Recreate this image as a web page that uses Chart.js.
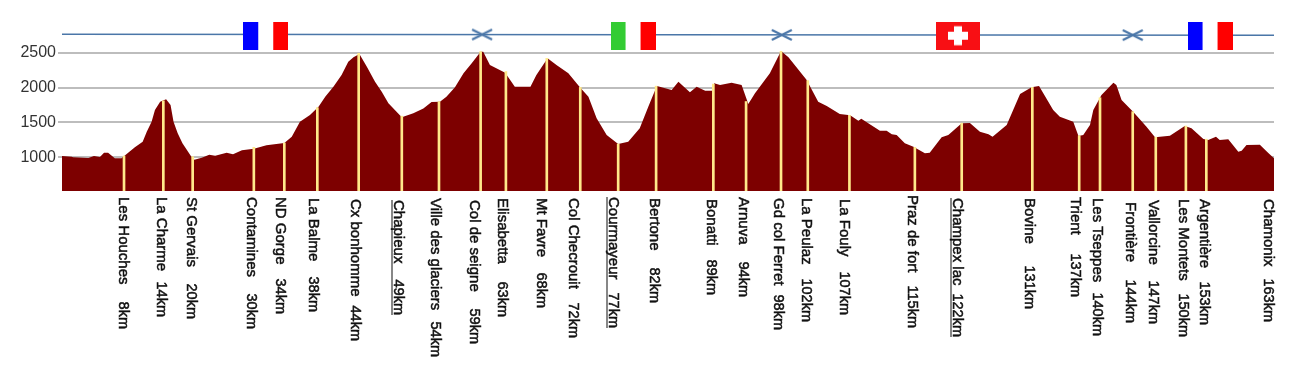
<!DOCTYPE html>
<html>
<head>
<meta charset="utf-8">
<title>Profil UTMB</title>
<script src="https://cdn.jsdelivr.net/npm/chart.js@4"></script>
<style>
  html, body { margin: 0; padding: 0; background: #fff; }
  canvas { display: block; }
</style>
</head>
<body>
<canvas id="profil" width="1304" height="380"></canvas>
<script>
// profil : position le long du parcours (km) et altitude (m)
const profileKm = [
  0, 1.3, 1.5, 3.54, 4.3, 5.1, 5.65, 6.2, 7.1, 8, 8.9, 9.8, 10.85, 11.4, 12.05, 12.5, 13.2, 14, 14.6, 15,
  15.56, 16.2, 17.4, 17.8, 18.8, 19.8, 20.6, 22.15, 23, 24.2, 25.8, 27.5, 29.9, 30.9, 32, 33.35, 34.5, 35.4,
  36.5, 37.6, 38.5, 39.2, 40, 41, 42.1, 43, 43.9, 45.7, 47.25, 48.6, 49.7, 50.83,
  51.7, 52.85, 54, 55.1, 56.3, 56.65, 57.55, 59.6, 60.9, 63, 63.8, 65.3, 66.5, 68.1, 69.65, 70.8, 71.9, 73.25,
  74.8, 76.15, 77.7, 78.85, 80, 82, 82.9, 84.45, 85.35, 86.5, 87.4, 87.7, 88.5, 90.05, 91.4, 92.3, 93.2, 95.2,
  96.7, 97.7, 100.15, 101.7, 102.85, 104.6, 106, 107.1, 107.5, 110,
  110.9, 111.6, 112.25, 113.35, 114.5, 116.05, 116.7, 118.3, 119.2, 121, 122.1, 123.45, 124.6, 125.15, 127.05,
  128.85, 130.4, 131.4, 133.3, 134.2, 136, 136.7, 137.35, 138.25, 138.7, 139.8, 141.4, 141.8, 142.5, 144.05,
  145.85, 147, 149, 151, 151.9, 153.5, 154.15, 155.2, 155.7, 156.85, 158.2, 158.65, 159.3, 161.1, 162.2, 163
];
const profileAlt = [
  1019, 1010, 1000, 991, 1019, 1005, 1067, 1067, 986, 986, 1067, 1144, 1225, 1368, 1511, 1679, 1798, 1831, 1750, 1511,
  1344, 1201, 1010, 967, 996, 1038, 1024, 1067, 1043, 1101, 1124, 1172, 1206, 1296, 1511, 1607, 1726, 1870,
  2013, 2180, 2371, 2433, 2481, 2300, 2085, 1941, 1774, 1574, 1631, 1702, 1793, 1798,
  1870, 2003, 2204, 2347, 2515, 2515, 2323, 2214, 2013, 2013, 2180, 2419, 2323, 2204, 2003, 1870, 1559, 1320,
  1191, 1225, 1416, 1726, 2023, 1965, 2085, 1932, 2013, 1956, 1956, 2061, 2037, 2070, 2037, 1765, 1917, 2204,
  2524, 2433, 2109, 1798, 1736, 1621, 1602, 1526, 1554, 1382,
  1382, 1330, 1320, 1201, 1153, 1058, 1067, 1287, 1320, 1488, 1492, 1368, 1330, 1296, 1464,
  1908, 2003, 2023, 1679, 1583, 1511, 1306, 1320, 1464, 1679, 1894, 2070, 2037, 1822, 1655,
  1440, 1287, 1311, 1449, 1416, 1263, 1249, 1296, 1249, 1258, 1081, 1096, 1177, 1182, 1067, 986
];

// points de passage
const stationNames = [
  "Les Houches", "La Charme", "St Gervais", "Contamines", "ND Gorge", "La Balme", "Cx bonhomme", "Chapieux",
  "Ville des glaciers", "Col de seigne", "Elisabetta", "Mt Favre", "Col Checrouit", "Courmayeur", "Bertone",
  "Bonatti", "Arnuva", "Gd col Ferret", "La Peulaz", "La Fouly", "Praz de fort", "Champex lac", "Bovine",
  "Trient", "Les Tseppes", "Frontière", "Vallorcine", "Les Montets", "Argentière", "Chamonix"
];
const stationLabelsKm = [
  "8km", "14km", "20km", "30km", "34km", "38km", "44km", "49km", "54km", "59km", "63km", "68km", "72km", "77km",
  "82km", "89km", "94km", "98km", "102km", "107km", "115km", "122km", "131km", "137km", "140km", "144km", "147km",
  "150km", "153km", "163km"
];
const stationPos = [
  8.34, 13.63, 17.57, 25.8, 29.9, 34.34, 39.9, 45.7, 50.7, 56.3, 59.7, 65.2, 69.7, 74.8, 79.9,
  87.6, 92, 96.7, 100.3, 105.9, 114.7, 121, 130.5, 136.8, 139.6, 144, 147.1, 151.15, 153.9, 163
];
const stationAlt = [
  1019, 1810, 1010, 1144, 1206, 1712, 2490, 1590, 1798, 2515, 2230, 2419, 2003, 1191, 2020,
  2050, 1800, 2520, 2100, 1602, 1144, 1490, 2003, 1310, 1855, 1655, 1290, 1449, 1260, 986
];
const underlined = ["Chapieux", "Courmayeur", "Champex lac"];

const yTicks = [1000, 1500, 2000, 2500];
const bandAlt = [2765, 2750];
const bandKm = [0, 163];
const crossKm = [56.5, 96.8, 144];
const crossAlt = [2760, 2755, 2752];
const flagKm = [27.4, 76.8, 120.5, 154.4];
const flagAlt = [2743, 2743, 2743, 2743];
const flagKinds = ["fr", "it", "ch", "fr"];

// mise en page des étiquettes (pixels)
const labelCenter = [
  123, 161, 191, 251, 280, 313, 355, 398, 435, 474, 502, 541, 573, 613, 654,
  711, 743, 778, 806, 844, 912, 957, 1029, 1075, 1097, 1130, 1153, 1183, 1204, 1268
];
const labelTop = [
  197, 197, 197, 197, 197, 198, 199, 200, 198, 200, 198, 198, 198, 197, 198,
  199, 197, 198, 198, 199, 195, 198, 198, 197, 198, 202, 200, 199, 199, 199
];
const labelBottom = [
  329, 317, 319, 329, 314, 312, 341, 315, 357, 344, 317, 308, 338, 328, 303,
  295, 297, 330, 322, 315, 328, 337, 309, 297, 336, 323, 324, 337, 325, 322
];

function makeFlag(kind) {
  const c = document.createElement("canvas");
  const g = c.getContext("2d");
  c.width = kind === "ch" ? 44 : 45;
  c.height = 28;
  if (kind === "ch") {
    g.fillStyle = "#f80f14";
    g.fillRect(0, 0, 44, 28);
    g.fillStyle = "#fff";
    g.fillRect(12, 10, 20, 8);
    g.fillRect(18, 4.5, 8, 19);
  } else {
    g.fillStyle = "#fff";
    g.fillRect(0, 0, 45, 28);
    g.fillStyle = kind === "it" ? "#33cc33" : "#0000ff";
    g.fillRect(0, 0, 15, 28);
    g.fillStyle = "#ff0000";
    g.fillRect(30, 0, 15, 28);
  }
  return c;
}

function makeCross() {
  const c = document.createElement("canvas");
  const g = c.getContext("2d");
  c.width = 24;
  c.height = 14;
  g.strokeStyle = "#4a76a8";
  g.lineWidth = 2.2;
  g.beginPath();
  g.moveTo(2, 2);
  g.lineTo(22, 12);
  g.moveTo(2, 12);
  g.lineTo(22, 2);
  g.stroke();
  return c;
}

const flagImages = flagKinds.map(makeFlag);
const crossImage = makeCross();

// textes verticaux sous le profil
const stationLabels = {
  id: "stationLabels",
  afterDraw(chart) {
    const c = chart.ctx;
    c.save();
    c.fillStyle = "#111";
    c.strokeStyle = "#111";
    c.lineWidth = 0.5;
    c.textBaseline = "middle";
    stationNames.forEach((name, i) => {
      const x = labelCenter[i];
      c.save();
      c.translate(x, 0);
      c.rotate(Math.PI / 2);
      c.font = "15px 'Liberation Sans'";
      c.textAlign = "left";
      c.fillText(name, labelTop[i], 0);
      c.strokeText(name, labelTop[i], 0);
      c.font = "14.5px 'Liberation Sans'";
      c.textAlign = "right";
      c.fillText(stationLabelsKm[i], labelBottom[i], 0);
      c.strokeText(stationLabelsKm[i], labelBottom[i], 0);
      if (underlined.includes(name)) {
        c.fillRect(labelTop[i], 5.5, labelBottom[i] - labelTop[i], 1);
      }
      c.restore();
    });
    c.restore();
  },
};

new Chart(document.getElementById("profil"), {
  type: "line",
  data: {
    datasets: [
      {
        label: "Frontières",
        data: flagKm.map((x, i) => ({ x, y: flagAlt[i] })),
        showLine: false,
        pointRadius: 14,
        pointStyle: (ctx) => flagImages[ctx.dataIndex],
        order: 1,
      },
      {
        label: "Cols frontière",
        data: crossKm.map((x, i) => ({ x, y: crossAlt[i] })),
        showLine: false,
        pointRadius: 12,
        pointStyle: crossImage,
        order: 2,
      },
      {
        label: "Repère",
        data: bandKm.map((x, i) => ({ x, y: bandAlt[i] })),
        borderColor: "#4a76a8",
        borderWidth: 1.5,
        pointRadius: 0,
        order: 3,
      },
      {
        type: "bar",
        label: "Points de passage",
        data: stationPos.slice(0, -1).map((x, i) => ({ x, y: stationAlt[i] })),
        backgroundColor: "#ffe98a",
        barThickness: 2,
        order: 4,
      },
      {
        label: "Altitude",
        data: profileKm.map((x, i) => ({ x, y: profileAlt[i] })),
        borderWidth: 0,
        backgroundColor: "#7d0000",
        fill: "start",
        tension: 0,
        pointRadius: 0,
        order: 5,
      },
    ],
  },
  options: {
    responsive: false,
    animation: false,
    layout: { padding: { top: 0, right: 30, bottom: 189, left: 0 }, autoPadding: false },
    plugins: { legend: { display: false }, tooltip: { enabled: false } },
    scales: {
      x: {
        type: "linear",
        min: 0,
        max: 163,
        offset: false,
        display: false,
      },
      y: {
        min: 518,
        max: 3255,
        afterBuildTicks: (axis) => {
          axis.ticks = yTicks.map((value) => ({ value }));
        },
        afterFit: (axis) => {
          axis.width = 62;
          axis.paddingTop = 0;
          axis.paddingBottom = 0;
        },
        border: { display: false },
        grid: { color: "#bdbdbd", lineWidth: 2, tickLength: 4 },
        ticks: {
          color: "#333",
          padding: 2,
          font: { family: "'Liberation Sans'", size: 16 },
          callback: (value) => String(value),
        },
      },
    },
  },
  plugins: [stationLabels],
});
</script>
</body>
</html>
